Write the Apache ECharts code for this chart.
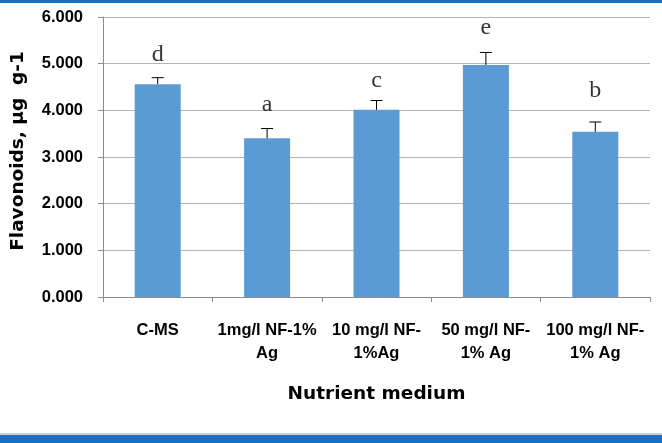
<!DOCTYPE html>
<html><head><meta charset="utf-8">
<script src="https://cdn.jsdelivr.net/npm/echarts@6/dist/echarts.min.js"></script>
<style>html,body{margin:0;padding:0;background:#fff}#c{width:662px;height:443px}</style>
</head><body><div id="c"></div>
<script>
const categories = ['C-MS', '1mg/l NF-1%\nAg', '10 mg/l NF-\n1%Ag', '50 mg/l NF-\n1% Ag', '100 mg/l NF-\n1% Ag'];
const values = [4.56, 3.40, 4.01, 4.97, 3.54];
const errors = [0.14, 0.21, 0.20, 0.27, 0.21];
const letters = ['d', 'a', 'c', 'e', 'b'];
const letterPos = [5.20, 4.13, 4.64, 5.76, 4.43];
const yTicks = [0, 1, 2, 3, 4, 5, 6];

const chart = echarts.init(document.getElementById('c'), null, {renderer: 'canvas'});
chart.setOption({
  animation: false,
  backgroundColor: '#fff',
  grid: {left: 103, right: 12, top: 17, bottom: 146},
  graphic: [
    {type: 'rect', shape: {x: 0, y: 0, width: 662, height: 3}, style: {fill: '#1a6fc4'}},
    {type: 'rect', shape: {x: 0, y: 433, width: 662, height: 2}, style: {fill: '#d0d0d0'}},
    {type: 'rect', shape: {x: 0, y: 435, width: 662, height: 8}, style: {fill: '#1a6fc4'}}
  ],
  xAxis: {
    type: 'category', data: categories,
    name: 'Nutrient medium', nameLocation: 'middle', nameGap: 88,
    nameTextStyle: {fontFamily: 'DejaVu Sans', fontWeight: 'bold', fontSize: 18.5, color: '#000'},
    axisLine: {lineStyle: {color: '#8c8c8c'}},
    axisTick: {show: true, length: 5, lineStyle: {color: '#8c8c8c'}},
    axisLabel: {fontFamily: 'Liberation Sans', fontWeight: 'bold', fontSize: 16.5, color: '#000', margin: 22, lineHeight: 23, interval: 0}
  },
  yAxis: {
    type: 'value', min: 0, max: 6, interval: 1,
    name: 'Flavonoids, µg  g-1', nameLocation: 'middle', nameGap: 75,
    nameTextStyle: {fontFamily: 'DejaVu Sans', fontWeight: 'bold', fontSize: 18.5, color: '#000', padding: [0, 0, 0, 12]},
    axisLine: {show: true, lineStyle: {color: '#8c8c8c'}},
    axisTick: {show: true, length: 5, lineStyle: {color: '#8c8c8c'}},
    splitLine: {lineStyle: {color: '#b4b4b4'}},
    axisLabel: {fontFamily: 'Liberation Sans', fontWeight: 'bold', fontSize: 16.5, color: '#000', margin: 20,
      formatter: v => yTicks.includes(v) ? v.toFixed(3) : ''}
  },
  series: [
    {type: 'bar', data: values, barWidth: 46, itemStyle: {color: '#5b9bd5'}, z: 2},
    {type: 'custom', z: 3,
      data: values.map((v, i) => [i, v, errors[i]]),
      renderItem: function (params, api) {
        const i = api.value(0), v = api.value(1), e = api.value(2);
        const p0 = api.coord([i, v]);
        const p1 = api.coord([i, v + e]);
        return {type: 'group', children: [
          {type: 'line', shape: {x1: p0[0], y1: p0[1], x2: p1[0], y2: p1[1]}, style: {stroke: '#000', lineWidth: 1}},
          {type: 'line', shape: {x1: p1[0] - 6, y1: p1[1], x2: p1[0] + 6, y2: p1[1]}, style: {stroke: '#000', lineWidth: 1}}
        ]};
      }
    },
    {type: 'scatter', data: letterPos.map((v, i) => [i, v]), symbolSize: 0, z: 4,
      label: {show: true, position: 'inside', formatter: p => letters[p.dataIndex],
        fontFamily: 'Liberation Serif', fontSize: 24, color: '#000'}}
  ]
});
</script></body></html>
